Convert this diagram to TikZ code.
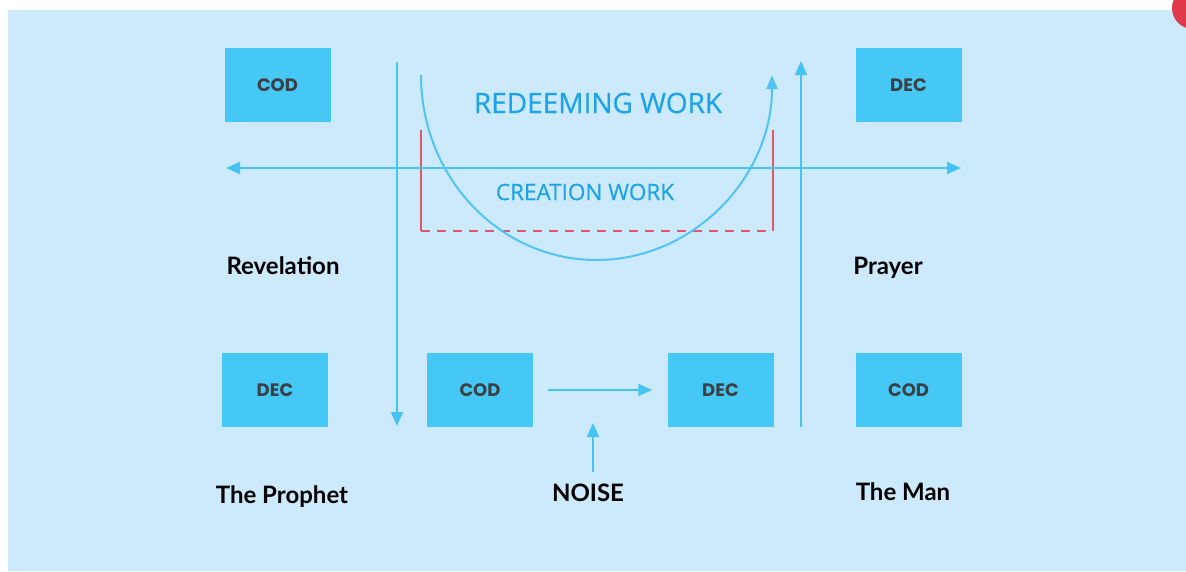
\documentclass[tikz,border=0pt]{standalone}
\usepackage{fontspec}
\setmainfont{Lato}
\newfontfamily\boxfont{Poppins}[UprightFont=* Bold]
\newfontfamily\titlefont{Open Sans}[AutoFakeBold=0.6]
\usetikzlibrary{arrows.meta}
\definecolor{bgblue}{HTML}{CCEAFB}
\definecolor{boxblue}{HTML}{45C8F5}
\definecolor{lineblue}{HTML}{45C3F2}
\definecolor{arcblue}{HTML}{52C4F4}
\definecolor{titleblue}{HTML}{1FA3E8}
\definecolor{redline}{HTML}{E0566A}
\definecolor{badge}{HTML}{E0394A}
\definecolor{boxtext}{HTML}{3C3F44}
\tikzset{
  codbox/.style={fill=boxblue, draw=none, minimum width=106pt, minimum height=74pt, inner sep=0pt,
    font=\boxfont\fontsize{18}{20}\selectfont, text=boxtext},
  lbl/.style={font=\bfseries\fontsize{24}{27}\selectfont, text=black, inner sep=0pt, anchor=base},
  conn/.style={draw=lineblue, line width=2pt, -{Triangle[length=14pt,width=12pt]}},
  dconn/.style={draw=lineblue, line width=2pt, {Triangle[length=14pt,width=12pt]}-{Triangle[length=14pt,width=12pt]}},
}
\begin{document}
\begin{tikzpicture}[x=1pt,y=-1pt]
\useasboundingbox (0,0) rectangle (1186,571);
\clip (0,0) rectangle (1186,571);
\fill[white] (0,0) rectangle (1186,571);
\fill[bgblue] (8,10) rectangle (1186,571);
\fill[badge] (1193,8) circle (21);

% boxes
\node[codbox] (cod1) at (277.5,85) {COD};
\node[codbox] (dec1) at (908.5,85) {DEC};
\node[codbox] (dec2) at (275,390) {DEC};
\node[codbox] (cod2) at (480,390) {COD};
\node[codbox] (dec3) at (720.5,390) {DEC};
\node[codbox] (cod3) at (908.5,390) {COD};

% labels
\node[lbl] (rev) at (283,274) {Revelation};
\node[lbl] (pray) at (888,274) {Prayer};
\node[lbl] (prophet) at (282,503) {The Prophet};
\node[lbl] (noise) at (588,501) {NOISE};
\node[lbl] (man) at (903,500) {The Man};

% red bracket
\coordinate (rtl) at (421,130);
\coordinate (rbl) at (421,231);
\coordinate (rbr) at (773,231);
\coordinate (rtr) at (773,130);
\draw[redline, line width=2pt] (rtl) -- (rbl);
\draw[redline, line width=2pt] (rtr) -- (rbr);
\draw[redline, line width=2pt, dash pattern=on 9pt off 7pt] (rbl) -- (rbr);

% axis lines
\coordinate (hl) at (226,168);
\coordinate (hr) at (961,168);
\draw[dconn] (hl) -- (hr);
\coordinate (vlt) at (397,62);
\coordinate (vlb) at (397,426);
\draw[conn] (vlt) -- (vlb);
\coordinate (vrb) at (801,427);
\coordinate (vrt) at (801,61);
\draw[conn] (vrb) -- (vrt);

% arc
\coordinate (arcs) at (421,75);
\draw[arcblue, line width=2pt, -{Triangle[length=14pt,width=11pt]}]
  (arcs) arc[start angle=180, end angle=360, x radius=175.5, y radius=-185];

% titles
\node[font=\titlefont\bfseries\fontsize{28}{32}\selectfont, text=titleblue] (redeem) at (598,103) {REDEEMING WORK};
\node[font=\titlefont\bfseries\fontsize{22.5}{26}\selectfont, text=titleblue] (creation) at (585,192) {CREATION WORK};

% flow arrows
\draw[conn, shorten <=15pt, shorten >=15pt] (cod2.east) -- (dec3.west);
\coordinate (noisetop) at (593,423);
\draw[conn] (593,472) -- (noisetop);
\end{tikzpicture}
\end{document}
